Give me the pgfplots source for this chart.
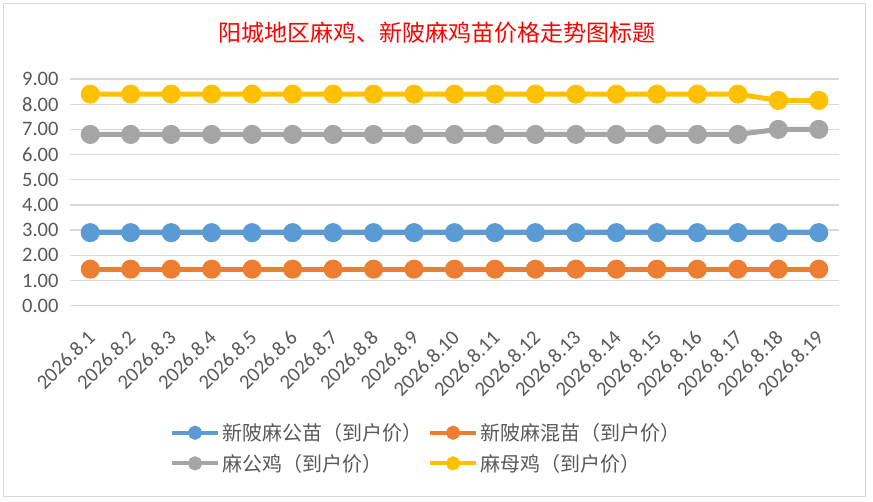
\documentclass[border=0pt]{standalone}
\usepackage{pgfplots}
\pgfplotsset{compat=1.18}
\usepackage{fontspec}
\setmainfont{Carlito}
\newfontfamily\cjk{Noto Sans CJK SC}
\definecolor{cblue}{HTML}{5B9BD5}
\definecolor{corange}{HTML}{ED7D31}
\definecolor{cgray}{HTML}{A5A5A5}
\definecolor{cgold}{HTML}{FFC000}
\definecolor{tickc}{HTML}{595959}
\definecolor{gridc}{HTML}{D9D9D9}
\begin{document}
\begin{tikzpicture}
\path[use as bounding box] (0pt,0pt) rectangle (873pt,502pt);
\fill[white] (0pt,0pt) rectangle (873pt,502pt);
\draw[gridc,line width=1pt] (3pt,5pt) rectangle (865pt,498pt);
\node[text=red,font=\cjk\fontsize{23}{26}\selectfont] at (437pt,469pt) {阳城地区麻鸡、新陂麻鸡苗价格走势图标题};
\begin{axis}[
  at={(70pt,196.3pt)}, anchor=south west,
  scale only axis, width=769pt, height=226.7pt,
  xmin=-0.5, xmax=18.5, ymin=0, ymax=9,
  axis line style={draw=none},
  major tick style={draw=none},
  ytick={0,1,...,9},
  xtick={0,1,...,18},
  xticklabels={2026.8.1,2026.8.2,2026.8.3,2026.8.4,2026.8.5,2026.8.6,2026.8.7,2026.8.8,2026.8.9,2026.8.10,2026.8.11,2026.8.12,2026.8.13,2026.8.14,2026.8.15,2026.8.16,2026.8.17,2026.8.18,2026.8.19},
  ymajorgrids, grid style={gridc,line width=1.3pt},
  /pgf/number format/assume math mode=true,
  yticklabel style={/pgf/number format/fixed,/pgf/number format/fixed zerofill,/pgf/number format/precision=2,text=tickc,font=\fontsize{20.5}{24}\selectfont,xshift=-8pt},
  xticklabel style={rotate=45,anchor=east,text=tickc,font=\fontsize{20.5}{24}\selectfont,xshift=-16pt,yshift=-21pt},
  every axis plot/.append style={line width=5pt, mark=*, mark size=7pt},
  legend columns=2,
  legend style={draw=none, fill=none, at={(0.463,-0.628)}, anchor=center,
    font=\cjk\fontsize{20}{22}\selectfont, text=tickc,
    column sep=4pt, row sep=8pt,
    /tikz/every odd column/.append style={column sep=0pt}},
  legend cell align=left,
  legend image code/.code={\draw[#1,line width=4pt,mark size=5pt,mark repeat=2,mark phase=2] plot coordinates {(0pt,0pt) (23pt,0pt) (46pt,0pt)};},
]
\addplot[cblue] coordinates {(0,2.9)(1,2.9)(2,2.9)(3,2.9)(4,2.9)(5,2.9)(6,2.9)(7,2.9)(8,2.9)(9,2.9)(10,2.9)(11,2.9)(12,2.9)(13,2.9)(14,2.9)(15,2.9)(16,2.9)(17,2.9)(18,2.9)};
\addlegendentry{新陂麻公苗（到户价）}
\addplot[corange] coordinates {(0,1.45)(1,1.45)(2,1.45)(3,1.45)(4,1.45)(5,1.45)(6,1.45)(7,1.45)(8,1.45)(9,1.45)(10,1.45)(11,1.45)(12,1.45)(13,1.45)(14,1.45)(15,1.45)(16,1.45)(17,1.45)(18,1.45)};
\addlegendentry{新陂麻混苗（到户价）}
\addplot[cgray] coordinates {(0,6.8)(1,6.8)(2,6.8)(3,6.8)(4,6.8)(5,6.8)(6,6.8)(7,6.8)(8,6.8)(9,6.8)(10,6.8)(11,6.8)(12,6.8)(13,6.8)(14,6.8)(15,6.8)(16,6.8)(17,7.0)(18,7.0)};
\addlegendentry{麻公鸡（到户价）}
\addplot[cgold] coordinates {(0,8.4)(1,8.4)(2,8.4)(3,8.4)(4,8.4)(5,8.4)(6,8.4)(7,8.4)(8,8.4)(9,8.4)(10,8.4)(11,8.4)(12,8.4)(13,8.4)(14,8.4)(15,8.4)(16,8.4)(17,8.15)(18,8.15)};
\addlegendentry{麻母鸡（到户价）}
\end{axis}
\end{tikzpicture}
\end{document}
